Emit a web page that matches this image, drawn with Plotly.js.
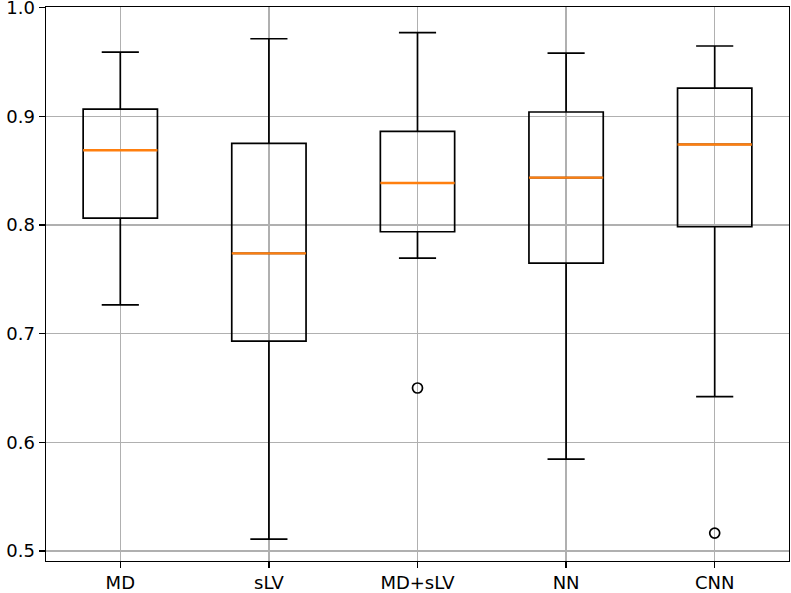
<!DOCTYPE html>
<html>
<head>
<meta charset="utf-8">
<script src="https://cdn.plot.ly/plotly-3.0.1.min.js"></script>
<style>
html,body{margin:0;padding:0;background:#fff;}
#chart{width:791px;height:593px;}
</style>
</head>
<body>
<div id="chart"></div>
<script>
// Data
const categories = ["MD", "sLV", "MD+sLV", "NN", "CNN"];
const lowerWhisker = [0.7264, 0.5109, 0.7695, 0.5846, 0.6421];
const q1Values     = [0.8064, 0.6932, 0.7938, 0.7649, 0.7984];
const medians      = [0.8688, 0.7739, 0.8386, 0.8436, 0.8741];
const q3Values     = [0.9066, 0.8751, 0.8861, 0.9040, 0.9259];
const upperWhisker = [0.9591, 0.9714, 0.9770, 0.9581, 0.9647];
const outlierCats  = ["MD+sLV", "CNN"];
const outlierVals  = [0.6500, 0.5165];
const yTicks = [0.5, 0.6, 0.7, 0.8, 0.9, 1.0];

const boxes = {
  type: 'box',
  x: categories,
  q1: q1Values,
  median: medians,
  q3: q3Values,
  lowerfence: lowerWhisker,
  upperfence: upperWhisker,
  width: 0.5,
  whiskerwidth: 0.5,
  fillcolor: 'rgba(0,0,0,0)',
  line: {color: '#000000', width: 1.7},
  boxpoints: false,
  hoverinfo: 'skip',
  showlegend: false
};

// orange median lines (degenerate boxes at the median)
const medianLines = {
  type: 'box',
  x: categories,
  q1: medians,
  median: medians,
  q3: medians,
  lowerfence: medians,
  upperfence: medians,
  width: 0.5,
  whiskerwidth: 0,
  fillcolor: 'rgba(0,0,0,0)',
  line: {color: '#ff7f0e', width: 2.4},
  boxpoints: false,
  hoverinfo: 'skip',
  showlegend: false
};

const outliers = {
  type: 'scatter',
  mode: 'markers',
  x: outlierCats,
  y: outlierVals,
  marker: {symbol: 'circle-open', size: 10, color: '#000000', line: {color: '#000000', width: 1.7}},
  hoverinfo: 'skip',
  showlegend: false
};

const font = {family: 'DejaVu Sans, sans-serif', size: 18, color: '#000000'};

const layout = {
  width: 791,
  height: 593,
  margin: {l: 46, r: 2, t: 7, b: 32, pad: 0},
  paper_bgcolor: '#ffffff',
  plot_bgcolor: '#ffffff',
  font: font,
  showlegend: false,
  boxmode: 'overlay',
  xaxis: {
    type: 'category',
    categoryorder: 'array',
    categoryarray: categories,
    range: [-0.5, categories.length - 0.5],
    showgrid: true,
    gridcolor: '#b0b0b0',
    gridwidth: 1.4,
    showline: true,
    linecolor: '#000000',
    linewidth: 1.4,
    mirror: true,
    ticks: 'outside',
    ticklen: 6,
    tickwidth: 1.4,
    tickcolor: '#000000',
    tickfont: font,
    ticklabelstandoff: -1,
    ticklabeloverflow: 'allow',
    zeroline: false,
    fixedrange: true
  },
  yaxis: {
    range: [0.4908, 1.0006],
    tickvals: yTicks,
    ticktext: yTicks.map(v => v.toFixed(1)),
    showgrid: true,
    gridcolor: '#b0b0b0',
    gridwidth: 1.4,
    showline: true,
    linecolor: '#000000',
    linewidth: 1.4,
    mirror: true,
    ticks: 'outside',
    ticklen: 6,
    tickwidth: 1.4,
    tickcolor: '#000000',
    tickfont: font,
    ticklabeloverflow: 'allow',
    zeroline: false,
    fixedrange: true
  }
};

Plotly.newPlot('chart', [boxes, medianLines, outliers], layout, {staticPlot: true, displayModeBar: false});
</script>
</body>
</html>
